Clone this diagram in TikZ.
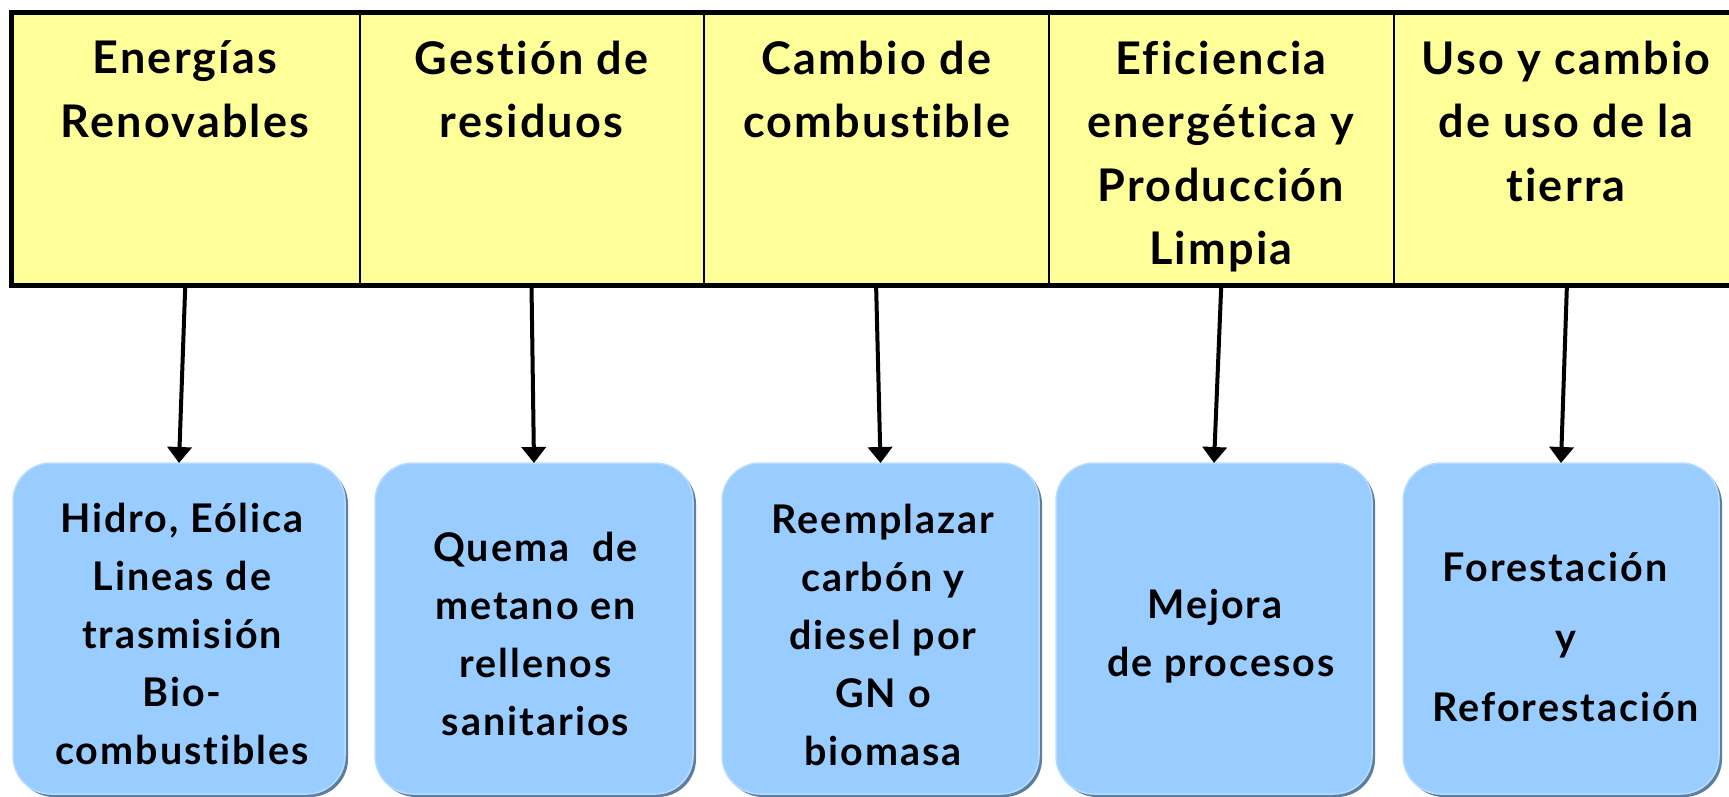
\documentclass[tikz,border=0pt]{standalone}
\usepackage{fontspec}
\setmainfont{Lato}[Ligatures=CommonOff, LetterSpace=5]
\usetikzlibrary{arrows.meta,shadows}
\definecolor{celly}{HTML}{FFFF99}
\definecolor{boxb}{HTML}{99CCFF}
\definecolor{boxedge}{HTML}{B8DCFF}
\definecolor{boxshadow}{HTML}{5E7EA0}
\tikzset{
  cell/.style={draw=black, line width=2pt, fill=celly, minimum height=273pt, inner sep=0pt, outer sep=0pt},
  hdrtext/.style={anchor=north, align=center, inner sep=0pt, font=\fontsize{45}{63.5}\selectfont\bfseries},
  bluebox/.style={draw=boxedge, line width=1.5pt, fill=boxb, rounded corners=38pt, minimum height=331pt, inner sep=0pt, outer sep=0pt,
    drop shadow={shadow xshift=3pt, shadow yshift=-3pt, fill=boxshadow, opacity=1}},
  boxtext/.style={align=center, inner sep=0pt, font=\fontsize{39.5}{57.8}\selectfont\bfseries},
  link/.style={line width=4pt, -{Triangle[width=24pt,length=16pt]}, shorten <=2pt}
}
\begin{document}
\begin{tikzpicture}[x=1pt,y=-1pt]
\useasboundingbox (0,0) rectangle (1729,796);
% header cells
\node[cell, minimum width=348.5pt] (c1) at (185.25,149) {};
\node[cell, minimum width=344pt] (c2) at (531.5,149) {};
\node[cell, minimum width=345.2pt] (c3) at (876.1,149) {};
\node[cell, minimum width=345.1pt] (c4) at (1221.25,149) {};
\node[cell, minimum width=346.2pt] (c5) at (1566.9,149) {};
\draw[line width=5pt] (c1.north west) -- (c5.north east);
\draw[line width=5pt] (c1.south west) -- (c5.south east);
\draw[line width=5pt] ([yshift=2.5pt]c1.north west) -- ([yshift=-2.5pt]c1.south west);
% header texts
\node[hdrtext] (t1) at (185,40.5) {Energías\\Renovables};
\node[hdrtext] (t2) at (531.5,40.5) {Gestión de\\residuos};
\node[hdrtext] (t3) at (876.5,40.5) {Cambio de\\combustible};
\node[hdrtext] (t4) at (1221,40.5) {Eficiencia\\energética y\\Producción\\Limpia};
\node[hdrtext] (t5) at (1566,40.5) {Uso y cambio\\de uso de la\\tierra};
% blue boxes
\node[bluebox, minimum width=332pt] (b1) at (179,628.5) {};
\node[bluebox, minimum width=318pt] (b2) at (534,628.5) {};
\node[bluebox, minimum width=317pt] (b3) at (880.5,628.5) {};
\node[bluebox, minimum width=316pt] (b4) at (1214,628.5) {};
\node[bluebox, minimum width=316pt] (b5) at (1561,628.5) {};
% box texts
\node[boxtext] (l1) at (182,634) {Hidro, Eólica\\Lineas de\\trasmisión\\Bio-\\combustibles};
\node[boxtext] (l2) at (535.5,634) {Quema\ \ de\\metano en\\rellenos\\sanitarios};
\node[boxtext] (l3) at (883,635) {Reemplazar\\carbón y\\diesel por\\GN o\\biomasa};
\node[boxtext] (l4) at (1221,636) {Mejora\hspace*{12pt}\\de procesos};
\node[boxtext, font=\fontsize{39.5}{70}\selectfont\bfseries] (l5) at (1566,637) {Forestación\hspace*{22pt}\\y\\Reforestación};
% arrows
\draw[link] (c1.south) -- (b1.north);
\draw[link] (c2.south) -- (b2.north);
\draw[link] (c3.south) -- (b3.north);
\draw[link] (c4.south) -- (b4.north);
\draw[link] (c5.south) -- (b5.north);
\end{tikzpicture}
\end{document}
